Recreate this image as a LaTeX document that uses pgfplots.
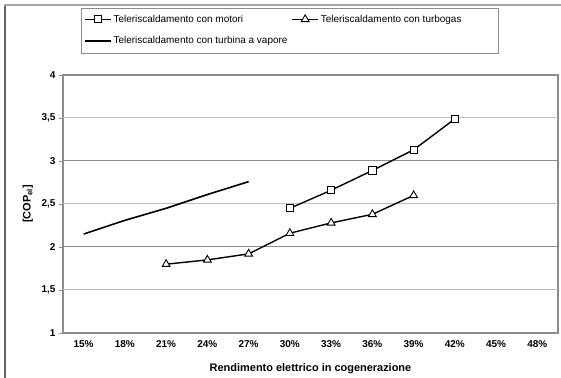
\documentclass[border=0pt]{standalone}
\usepackage{pgfplots}
\pgfplotsset{compat=1.18}
\usepackage{fontspec}
\setmainfont{Liberation Sans}

\begin{document}
\begin{tikzpicture}
\useasboundingbox (0bp,0bp) rectangle (561bp,378bp);
\fill[white] (0bp,0bp) rectangle (561bp,378bp);
% chart frame
\draw[black!60, line width=2.5bp] (5bp,0bp) -- (5bp,373bp);
\draw[black!35, line width=1.5bp] (3.75bp,373bp) -- (561bp,373bp);
\begin{axis}[
  at={(63bp,45bp)}, anchor=south west,
  scale only axis, width=495bp, height=258bp,
  xmin=-0.5, xmax=11.5, ymin=1, ymax=4,
  axis line style={black!45, line width=1.2bp},
  xtick={0,...,11},
  xticklabels={15\%,18\%,21\%,24\%,27\%,30\%,33\%,36\%,39\%,42\%,45\%,48\%},
  x tick style={draw=none},
  extra x ticks={-0.5,0.5,...,11.5},
  extra x tick labels={},
  extra x tick style={tick style={draw=black!45, line width=0.8bp}},
  ytick={1,2,3,4},
  yticklabels={1,2,3,4},
  extra y ticks={1.5,2.5,3.5},
  extra y tick labels={{1,5},{2,5},{3,5}},
  extra y tick style={grid style={black!25, line width=1bp}},
  ymajorgrids,
  grid style={black!45, line width=1bp},
  tick align=outside,
  major tick length=4bp,
  y tick style={draw=black!45, line width=0.8bp},
  xtick pos=bottom, ytick pos=left,
  ticklabel style={font=\bfseries\fontsize{10}{11}\selectfont},
  xlabel={Rendimento elettrico in cogenerazione},
  ylabel={[COP\textsubscript{el}]},
  label style={font=\bfseries\fontsize{11}{12}\selectfont},
  xlabel style={yshift=-1bp},
  ylabel style={yshift=-2bp},
  legend columns=2,
  legend cell align=left,
  legend style={
    at={(0.04,1.245)}, anchor=north west,
    draw=none, fill=none,
    font=\fontsize{10}{12}\selectfont,
    row sep=9bp, inner sep=1bp,
    /tikz/every even column/.append style={column sep=2bp}
  },
  legend image code/.code={%
    \draw[mark repeat=2,mark phase=2,#1] plot coordinates {(0bp,0bp) (13bp,0bp) (26bp,0bp)};
  },
]
\addplot[black, line width=1.4bp, mark=square*, mark size=3.6bp,
  mark options={fill=white, line width=0.9bp}]
  coordinates {(5,2.45) (6,2.66) (7,2.89) (8,3.13) (9,3.49)};
\addlegendentry{Teleriscaldamento con motori}
\addplot[black, line width=1.4bp, mark=triangle*, mark size=4.5bp,
  mark options={fill=white, line width=0.9bp}]
  coordinates {(2,1.80) (3,1.85) (4,1.92) (5,2.16) (6,2.28) (7,2.38) (8,2.60)};
\addlegendentry{Teleriscaldamento con turbogas}
\addplot[black, line width=1.6bp, mark=none]
  coordinates {(0,2.15) (1,2.31) (2,2.45) (3,2.61) (4,2.76)};
\addlegendentry{Teleriscaldamento con turbina a vapore}
\end{axis}
% legend frame
\draw[black!45, line width=1bp] (81bp,369bp) rectangle (498bp,324bp);
\end{tikzpicture}
\end{document}
